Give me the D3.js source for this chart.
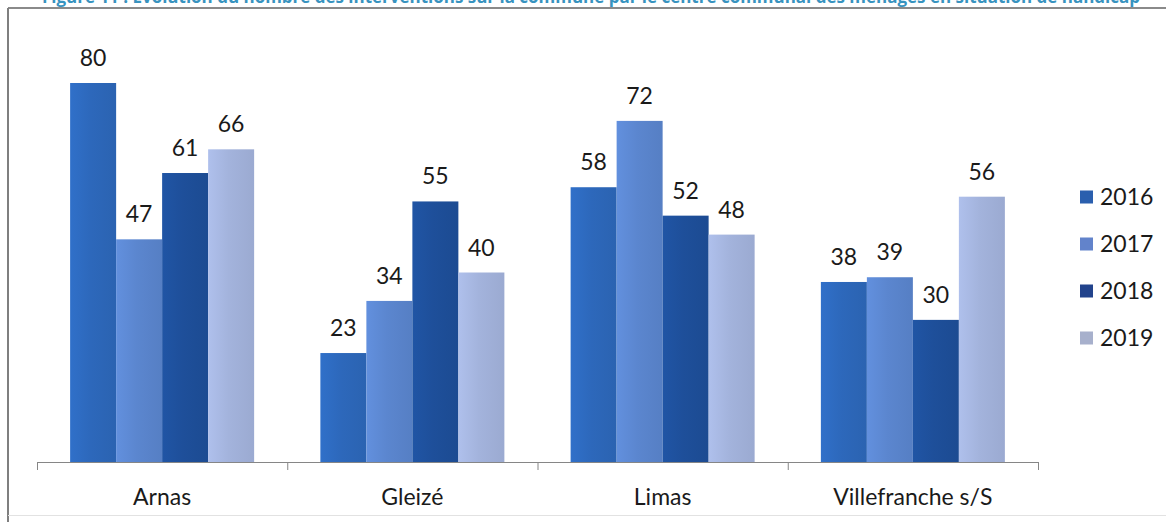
<!DOCTYPE html>
<html>
<head>
<meta charset="utf-8">
<script src="https://cdn.jsdelivr.net/npm/d3@7"></script>
<style>
  body { margin: 0; background: #fff; }
  svg text { font-family: Lato, "Open Sans", sans-serif; }
</style>
</head>
<body>
<div id="chart"></div>
<script>
// data
var communes = ["Arnas", "Gleizé", "Limas", "Villefranche s/S"];
var years = ["2016", "2017", "2018", "2019"];
var v2016 = [80, 23, 58, 38];
var v2017 = [47, 34, 72, 39];
var v2018 = [61, 55, 52, 30];
var v2019 = [66, 40, 48, 56];
var titleText = "Figure 11 : Evolution du nombre des interventions sur la commune par le centre communal des ménages en situation de handicap";

var series = [v2016, v2017, v2018, v2019];
var colors = ["#2d68bb", "#5b86cf", "#1e4f9a", "#a3b3dc"];
var legendColors = ["#2a5fae", "#6283cb", "#22438c", "#a7b0cc"];

var width = 1166, height = 522;
var left = 37, right = 1038, base = 462;

var svg = d3.select("#chart").append("svg")
    .attr("width", width)
    .attr("height", height);

// gradients for the excel-looking bars
var defs = svg.append("defs");
colors.forEach(function(c, i) {
  var g = defs.append("linearGradient")
      .attr("id", "grad" + i)
      .attr("x1", "0%").attr("x2", "100%").attr("y1", "0%").attr("y2", "0%");
  g.append("stop").attr("offset", "0%").attr("stop-color", d3.color(c).brighter(0.2));
  g.append("stop").attr("offset", "45%").attr("stop-color", c);
  g.append("stop").attr("offset", "100%").attr("stop-color", d3.color(c).darker(0.15));
});

// title, cut off by the top of the picture as in the scan
svg.append("text")
    .attr("x", 42)
    .attr("y", 3)
    .attr("textLength", 1098)
    .attr("lengthAdjust", "spacingAndGlyphs")
    .style("font-family", "'Open Sans', sans-serif")
    .style("font-size", "17px")
    .style("font-weight", "bold")
    .attr("fill", "#3893bf")
    .text(titleText);

// frame
svg.append("line").attr("x1", 8).attr("x2", width).attr("y1", 8).attr("y2", 8)
    .attr("stroke", "#8a8a8a").attr("stroke-width", 2);
svg.append("line").attr("x1", 8).attr("x2", 8).attr("y1", 8).attr("y2", height)
    .attr("stroke", "#7f7f7f").attr("stroke-width", 2);
svg.append("line").attr("x1", 8).attr("x2", width).attr("y1", 515.5).attr("y2", 515.5)
    .attr("stroke", "#e2e2e2").attr("stroke-width", 1);

// scales
var x0 = d3.scaleBand().domain(communes).range([left, right]).padding(0);
var x1 = d3.scaleBand().domain(years).range([0, x0.bandwidth()])
    .paddingInner(0).paddingOuter(0.72);
var y = d3.scaleLinear().domain([0, 80]).range([base, 83]);
var xTicks = d3.scaleLinear().domain([0, communes.length]).range([left, right]);

// bars
var groups = svg.selectAll("g.group")
    .data(communes)
    .enter()
    .append("g")
    .attr("class", "group")
    .attr("transform", function(d) { return "translate(" + x0(d) + ",0)"; });

groups.selectAll("rect")
    .data(function(d, ci) { return years.map(function(yr, si) { return {year: yr, s: si, value: series[si][ci]}; }); })
    .enter()
    .append("rect")
    .attr("x", function(d) { return x1(d.year); })
    .attr("width", x1.bandwidth())
    .attr("y", function(d) { return y(d.value); })
    .attr("height", function(d) { return base - y(d.value); })
    .attr("fill", function(d) { return "url(#grad" + d.s + ")"; });

groups.selectAll("text.val")
    .data(function(d, ci) { return years.map(function(yr, si) { return {year: yr, value: series[si][ci]}; }); })
    .enter()
    .append("text")
    .attr("class", "val")
    .attr("x", function(d) { return x1(d.year) + x1.bandwidth() / 2; })
    .attr("y", function(d) { return y(d.value) - 17; })
    .attr("text-anchor", "middle")
    .style("font-size", "23px")
    .attr("fill", "#1a1a1a")
    .text(function(d) { return d.value; });

// x axis with ticks between categories
var xAxis = d3.axisBottom(xTicks)
    .tickValues(d3.range(communes.length + 1))
    .tickSize(8)
    .tickSizeOuter(0)
    .tickFormat("");
var axisG = svg.append("g")
    .attr("transform", "translate(0," + base + ")")
    .call(xAxis);
axisG.select(".domain").attr("stroke", "#868686");
axisG.selectAll(".tick line").attr("stroke", "#868686");

// category labels
svg.selectAll("text.cat")
    .data(communes)
    .enter()
    .append("text")
    .attr("class", "cat")
    .attr("x", function(d) { return x0(d) + x0.bandwidth() / 2; })
    .attr("y", 505)
    .attr("text-anchor", "middle")
    .style("font-size", "23px")
    .attr("fill", "#1a1a1a")
    .text(function(d) { return d; });

// legend
var legend = svg.selectAll("g.legend")
    .data(years)
    .enter()
    .append("g")
    .attr("class", "legend")
    .attr("transform", function(d, i) { return "translate(1080," + (197 + i * 47) + ")"; });
legend.append("rect")
    .attr("x", 0).attr("y", -6.5)
    .attr("width", 13).attr("height", 13)
    .attr("fill", function(d, i) { return legendColors[i]; });
legend.append("text")
    .attr("x", 20).attr("y", 8)
    .style("font-size", "23px")
    .attr("fill", "#1a1a1a")
    .text(function(d) { return d; });
</script>
</body>
</html>
